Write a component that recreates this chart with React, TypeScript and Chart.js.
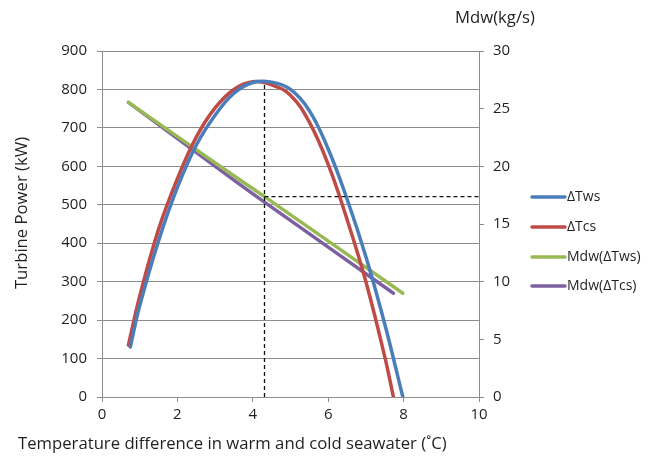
import React, { useEffect, useRef } from "react";
import { Chart, registerables } from "chart.js";

Chart.register(...registerables);

// ΔTws curve (Turbine power, kW)
const twsX = [0.75, 1.0, 1.5, 2.0, 2.5, 3.0, 3.5, 4.0, 4.5, 5.0, 5.5, 6.0, 6.5, 7.0, 7.5, 7.98];
const twsY = [130, 237, 406, 545, 655, 733, 790, 818, 819, 800, 745, 645, 515, 365, 190, 0];
// ΔTcs curve (Turbine power, kW)
const tcsX = [0.7, 1.0, 1.5, 2.0, 2.5, 3.0, 3.5, 4.0, 4.5, 5.0, 5.5, 6.0, 6.5, 7.0, 7.5, 7.73];
const tcsY = [135, 262, 436, 568, 676, 752, 800, 820, 812, 785, 715, 605, 462, 300, 105, 0];
// Mdw lines (kg/s)
const mdwTwsX = [0.7, 3.4, 4.31, 7.98];
const mdwTwsY = [25.55, 19.4, 17.37, 9.0];
const mdwTcsX = [0.7, 3.4, 4.31, 7.73];
const mdwTcsY = [25.55, 19.05, 16.9, 9.0];
// Dashed reference lines
const refVX = [4.31, 4.31];
const refVY = [0, 818];
const refHX = [4.31, 10];
const refHY = [17.37, 17.37];

const seriesLabels = ["ΔTws", "ΔTcs", "Mdw(ΔTws)", "Mdw(ΔTcs)"];
const seriesColors = ["#4A7EBB", "#BE4B48", "#98B954", "#7D60A0"];

const xTitle = "Temperature difference in warm and cold seawater (˚C)";
const yTitle = "Turbine Power (kW)";
const y2Title = "Mdw(kg/s)";

const FONT = "'Open Sans', sans-serif";
const TEXT = "#1f1f1f";
const GRID = "#8c8c8c";

const pts = (xs: number[], ys: number[]) => xs.map((x, i) => ({ x, y: ys[i] }));

const decorPlugin = {
  id: "decor",
  afterDraw(chart: any) {
    const ctx = chart.ctx;
    ctx.save();
    ctx.fillStyle = TEXT;
    ctx.font = `16.7px ${FONT}`;
    ctx.textAlign = "left";
    ctx.textBaseline = "middle";
    ctx.fillText(xTitle, 18, 444);
    ctx.fillText(y2Title, 455, 18);
    ctx.save();
    ctx.translate(22, 213);
    ctx.rotate(-Math.PI / 2);
    ctx.textAlign = "center";
    ctx.fillText(yTitle, 0, 0);
    ctx.restore();
    // legend
    ctx.font = `14px ${FONT}`;
    const legendY = [197, 227, 257, 286];
    seriesLabels.forEach((lab, i) => {
      ctx.strokeStyle = seriesColors[i];
      ctx.lineWidth = 3.5;
      ctx.lineCap = "round";
      ctx.beginPath();
      ctx.moveTo(532, legendY[i]);
      ctx.lineTo(565, legendY[i]);
      ctx.stroke();
      ctx.fillStyle = TEXT;
      ctx.textAlign = "left";
      ctx.fillText(lab, 567, legendY[i]);
    });
    ctx.restore();
  },
};

export default function App() {
  const ref = useRef<HTMLCanvasElement>(null);
  useEffect(() => {
    if (!ref.current) return;
    const lineDs = (label: string, data: any[], color: string, axis: string) => ({
      label,
      data,
      borderColor: color,
      backgroundColor: color,
      borderWidth: 3.5,
      pointRadius: 0,
      borderCapStyle: "round",
      tension: 0.4,
      yAxisID: axis,
      fill: false,
    });
    const dashDs = (data: any[], axis: string) => ({
      label: "",
      data,
      borderColor: "#111",
      borderWidth: 1.3,
      borderDash: [4, 3],
      pointRadius: 0,
      yAxisID: axis,
      fill: false,
    });
    const tickFont = { family: FONT, size: 15 };
    const chart = new Chart(ref.current, {
      type: "line",
      data: {
        datasets: [
          dashDs(pts(refVX, refVY), "y"),
          dashDs(pts(refHX, refHY), "y2"),
          lineDs(seriesLabels[0], pts(twsX, twsY), seriesColors[0], "y"),
          lineDs(seriesLabels[1], pts(tcsX, tcsY), seriesColors[1], "y"),
          lineDs(seriesLabels[2], pts(mdwTwsX, mdwTwsY), seriesColors[2], "y2"),
          lineDs(seriesLabels[3], pts(mdwTcsX, mdwTcsY), seriesColors[3], "y2"),
        ] as any,
      },
      options: {
        animation: false,
        responsive: false,
        layout: { padding: { top: 51, left: 0, right: 0, bottom: 0 } },
        plugins: { legend: { display: false }, tooltip: { enabled: false } },
        scales: {
          x: {
            type: "linear",
            min: 0,
            max: 10,
            ticks: { stepSize: 2, color: TEXT, font: tickFont, padding: 4, maxRotation: 0 },
            grid: { drawOnChartArea: false, drawTicks: true, tickLength: 5, color: GRID },
            border: { color: GRID, width: 1 },
            afterFit: (s: any) => { s.height = 62; },
          },
          y: {
            type: "linear",
            position: "left",
            min: 0,
            max: 900,
            ticks: { stepSize: 100, color: TEXT, font: tickFont, padding: 10 },
            grid: { color: GRID, tickLength: 5 },
            border: { color: GRID, width: 1 },
            afterFit: (s: any) => { s.width = 102; },
          },
          y2: {
            type: "linear",
            position: "right",
            min: 0,
            max: 30,
            ticks: { stepSize: 5, color: TEXT, font: tickFont, padding: 9 },
            grid: { drawOnChartArea: false, tickLength: 5, color: GRID },
            border: { color: GRID, width: 1 },
            afterFit: (s: any) => { s.width = 176; },
          },
        },
      } as any,
      plugins: [decorPlugin],
    });
    return () => chart.destroy();
  }, []);
  return (
    <div style={{ position: "fixed", left: 0, top: 0, width: 655, height: 459, background: "#fff" }}>
      <canvas ref={ref} width={655} height={459} style={{ display: "block" }} />
    </div>
  );
}
